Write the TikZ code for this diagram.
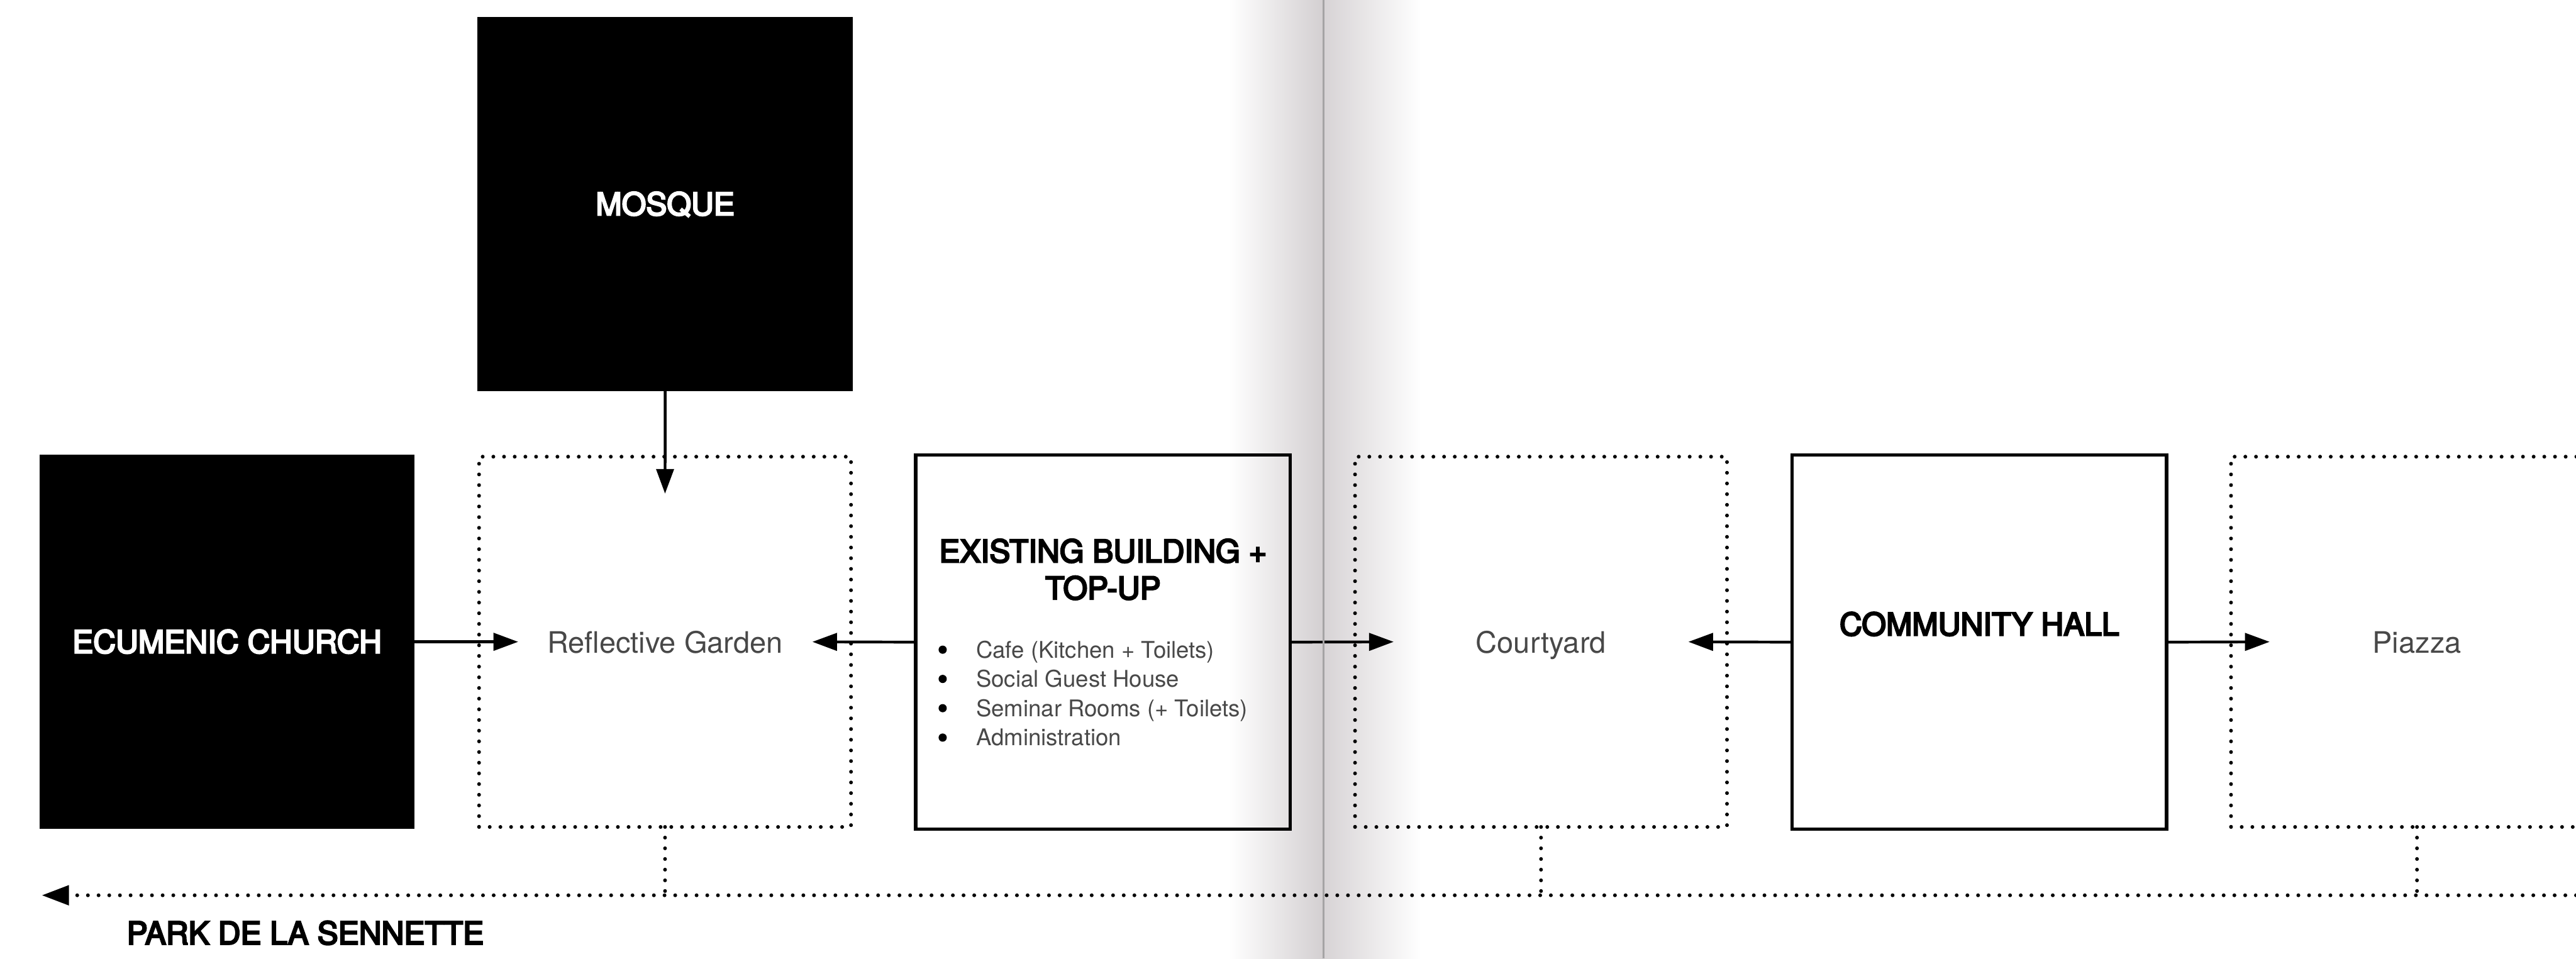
\documentclass[tikz,border=0pt]{standalone}
\usepackage{fontspec}
\setmainfont{TeX Gyre Heros}
\newfontfamily\medfont[FakeBold=5]{TeX Gyre Heros}
\usetikzlibrary{arrows.meta}
\definecolor{gutL}{RGB}{211,207,209}
\definecolor{gutR}{RGB}{215,211,213}
\definecolor{gutline}{RGB}{165,163,164}
\definecolor{lighttext}{RGB}{72,72,72}
\newcommand\mytitlefont{\medfont\fontsize{19}{22.5}\selectfont}
\newcommand\mylightfont{\fontsize{18}{21}\selectfont}
\newcommand\myitemfont{\fontsize{14}{17}\selectfont}
\begin{document}
\begin{tikzpicture}[x=1pt,y=-1pt,
  blackbox/.style={fill=black,minimum width=228.5pt,minimum height=228pt,inner sep=0pt,outer sep=0pt},
  solidbox/.style={draw=black,line width=2pt,minimum width=228pt,minimum height=227.6pt,inner sep=0pt,outer sep=0pt},
  dotline/.style={draw=black,line width=2.3pt,dash pattern=on 0pt off 6.5pt,line cap=round},
  dotbox/.style={dotline,minimum width=226.4pt,minimum height=225.4pt,inner sep=0pt,outer sep=0pt},
  titletext/.style={font=\mytitlefont,text height=13.6pt,text depth=0pt,inner sep=0pt},
  whitetitle/.style={titletext,text=white},
  lightlabel/.style={font=\mylightfont,text=lighttext,text height=12.9pt,text depth=0pt,inner sep=0pt},
  itemtext/.style={font=\myitemfont,text=lighttext,text height=10pt,text depth=0pt,inner sep=0pt,anchor=west},
  bulletdot/.style={circle,fill=black,minimum size=5pt,inner sep=0pt},
  arrowline/.style={line width=1.7pt,-{Triangle[length=15pt,width=10.6pt]}},
]
\useasboundingbox (0,0) rectangle (1568,583.5);
\clip (0,0) rectangle (1568,583.5);
% gutter shading
\shade[left color=white,right color=gutL] (748,0) rectangle (805.6,583.5);
\shade[left color=gutR,right color=white] (805.6,0) rectangle (865,583.5);

% boxes
\node[blackbox] (church) at (138.2,390.7) {};
\node[whitetitle] (churchlbl) at (138.2,390.7) {ECUMENIC CHURCH};
\node[blackbox] (mosque) at (404.9,124.2) {};
\node[whitetitle] (mosquelbl) at (404.9,124.2) {MOSQUE};
\node[dotbox] (garden) at (404.8,390.7) {};
\node[lightlabel] (gardenlbl) at (404.8,391) {Reflective Garden};
\node[solidbox] (existing) at (671.4,390.9) {};
\node[titletext] (ext1) at (671.4,335.5) {EXISTING BUILDING +};
\node[titletext] (ext2) at (671.4,358) {TOP-UP};
\node[bulletdot] (b1) at (573.8,395.5) {};
\node[bulletdot] (b2) at (573.8,413.3) {};
\node[bulletdot] (b3) at (573.8,431.1) {};
\node[bulletdot] (b4) at (573.8,449) {};
\node[itemtext] (i1) at (594,395.5) {Cafe (Kitchen + Toilets)};
\node[itemtext] (i2) at (594,413.3) {Social Guest House};
\node[itemtext] (i3) at (594,431.1) {Seminar Rooms (+ Toilets)};
\node[itemtext] (i4) at (594,449) {Administration};
\node[dotbox] (courtyard) at (938,390.7) {};
\node[lightlabel] (courtyardlbl) at (938,391) {Courtyard};
\node[solidbox] (hall) at (1204.8,390.9) {};
\node[titletext] (halllbl) at (1204.8,380) {COMMUNITY HALL};
\node[dotbox] (piazza) at (1471.2,390.7) {};
\node[lightlabel] (piazzalbl) at (1471.2,391) {Piazza};

% arrows
\draw[arrowline] (church.east) -- ([xshift=23.8pt]garden.west);
\draw[arrowline] (mosque.south) -- ([yshift=-22.5pt]garden.north);
\draw[arrowline] (existing.west) -- ([xshift=-23.5pt]garden.east);
\draw[arrowline] (existing.east) -- ([xshift=23.5pt]courtyard.west);
\draw[arrowline] (hall.west) -- ([xshift=-23.5pt]courtyard.east);
\draw[arrowline] (hall.east) -- ([xshift=23.5pt]piazza.west);

% park line
\coordinate (parkR) at (1568,545);
\coordinate (parkL) at (25.5,545);
\draw[dotline,-{Triangle[length=16.5pt,width=11.8pt]}] (parkR) -- (parkL);
\draw[dotline] (garden.south) -- (garden.south |- parkL);
\draw[dotline] (courtyard.south) -- (courtyard.south |- parkL);
\draw[dotline] (piazza.south) -- (piazza.south |- parkL);
\node[titletext,anchor=west] (park) at (77,568) {PARK DE LA SENNETTE};

% gutter line
\draw[gutline,line width=1.4pt] (805.6,0) -- (805.6,583.5);
\end{tikzpicture}
\end{document}
